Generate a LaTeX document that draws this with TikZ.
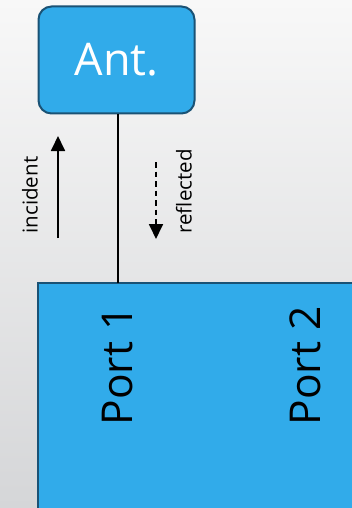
\documentclass[tikz,border=0pt]{standalone}
\usepackage{fontspec}
\setmainfont{Open Sans}
\usetikzlibrary{arrows.meta}
\definecolor{boxfill}{HTML}{31ABEA}
\definecolor{boxline}{HTML}{1A5275}
\definecolor{bgtop}{HTML}{F8F8F8}
\definecolor{bgbot}{HTML}{D5D6D8}
\tikzset{
  block/.style={draw=boxline, line width=2pt, fill=boxfill},
  biglabel/.style={font=\fontsize{42.5}{42.5}\selectfont, inner sep=0pt},
  smalllabel/.style={font=\fontsize{20.5}{20.5}\selectfont, inner sep=0pt, rotate=90},
  wave/.style={line width=1.8pt, -{Triangle[length=15pt,width=14pt]}},
}
\begin{document}
\begin{tikzpicture}[x=1pt,y=-1pt]
  % background
  \shade[top color=bgtop, bottom color=bgbot] (0,0) rectangle (352,508);
  \useasboundingbox (0,0) rectangle (352,508);
  % two-port block, running off the page
  \begin{scope}
    \clip (0,0) rectangle (352,508);
    \draw[block] (38,283) rectangle (380,540);
  \end{scope}
  \coordinate (p1) at (118,283);
  % antenna
  \node[block, rounded corners=13pt, minimum width=156pt, minimum height=107pt,
        text=white, font=\fontsize{45}{45}\selectfont] (ant) at (116.5,60) {Ant.};
  \draw[line width=1.2pt] (ant.south -| p1) -- (p1);
  % port labels
  \node[biglabel, rotate=90] (port1) at (117.5,366) {Port 1};
  \node[biglabel, rotate=90] (port2) at (305,366) {Port 2};
  % wave directions
  \coordinate (inA) at (58,238);
  \coordinate (inB) at (58,136);
  \draw[wave] (inA) -- (inB);
  \coordinate (reA) at (156,162);
  \coordinate (reB) at (156,239);
  \draw[wave, dash pattern=on 5.5pt off 4pt] (reA) -- (reB);
  \node[smalllabel] (inc) at (30,195) {incident};
  \node[smalllabel] (ref) at (184,191.5) {reflected};
\end{tikzpicture}
\end{document}
